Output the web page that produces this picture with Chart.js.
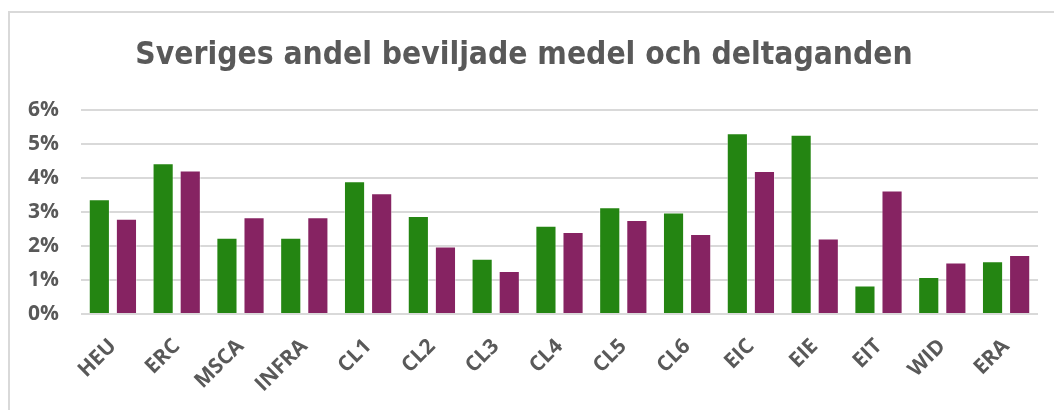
<!DOCTYPE html>
<html>
<head>
<meta charset="utf-8">
<script src="https://cdn.jsdelivr.net/npm/chart.js@4/dist/chart.umd.min.js"></script>
<style>
html,body{margin:0;padding:0;background:#fff;}
#wrap{position:absolute;left:0;top:0;width:1054px;height:410px;}
#frame{position:absolute;left:8px;top:11px;width:1060px;height:420px;border-top:2px solid #d9d9d9;border-left:2px solid #d9d9d9;box-sizing:border-box;}
canvas{position:absolute;left:0;top:0;}
</style>
</head>
<body>
<div id="wrap">
<div id="frame"></div>
<canvas id="c" width="1054" height="410"></canvas>
</div>
<script>
const categories = ["HEU","ERC","MSCA","INFRA","CL1","CL2","CL3","CL4","CL5","CL6","EIC","EIE","EIT","WID","ERA"];
const medel = [3.37,4.43,2.24,2.24,3.90,2.88,1.62,2.59,3.14,2.98,5.31,5.27,0.84,1.09,1.55];
const deltaganden = [2.80,4.22,2.84,2.84,3.55,1.98,1.26,2.41,2.76,2.35,4.20,2.22,3.63,1.51,1.73];
const yTicks = [0,1,2,3,4,5,6];
const titleText = "Sveriges andel beviljade medel och deltaganden";

const tickFont = {family:"'Open Sans', sans-serif", size:21, weight:"bold"};
new Chart(document.getElementById('c'), {
  type:'bar',
  data:{
    labels:categories,
    datasets:[
      {label:"Medel", data:medel, backgroundColor:"#248512", borderColor:"rgba(255,255,255,0.45)", borderWidth:1, barPercentage:0.78, categoryPercentage:0.85},
      {label:"Deltaganden", data:deltaganden, backgroundColor:"#862362", borderColor:"rgba(255,255,255,0.45)", borderWidth:1, barPercentage:0.78, categoryPercentage:0.85}
    ]
  },
  options:{
    responsive:false,
    animation:false,
    layout:{padding:{left:10,right:16,top:0,bottom:0}},
    plugins:{
      legend:{display:false},
      tooltip:{enabled:false},
      title:{display:true, text:titleText, color:"#595959",
        font:{family:"'DejaVu Sans Condensed',sans-serif", size:31.5, weight:"bold"},
        padding:{top:37,bottom:35}}
    },
    scales:{
      x:{
        grid:{display:false},
        border:{display:false},
        ticks:{color:"#595959", font:tickFont, maxRotation:45, minRotation:45, padding:12, autoSkip:false},
        afterFit:(s)=>{s.height=96;}
      },
      y:{
        min:0, max:6,
        afterBuildTicks:(s)=>{s.ticks = yTicks.map(v=>({value:v}));},
        grid:{color:"#d9d9d9", lineWidth:2, drawTicks:false},
        border:{display:false},
        ticks:{color:"#595959", font:tickFont, padding:22, callback:(v)=>v+"%"},
        afterFit:(s)=>{s.width=71;}
      }
    }
  }
});
</script>
</body>
</html>
